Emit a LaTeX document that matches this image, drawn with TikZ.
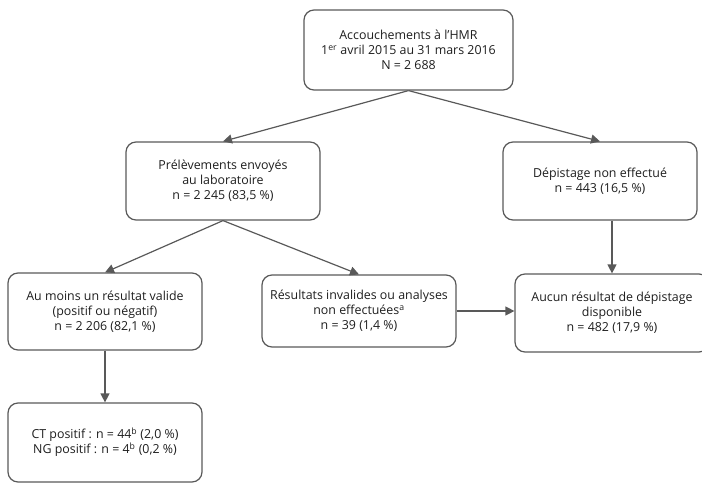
\documentclass[tikz,border=0pt]{standalone}
\usepackage{fontspec}
\setmainfont{Open Sans}
\usepackage{tikz}
\usetikzlibrary{arrows.meta}
\definecolor{BoxGray}{HTML}{595959}
\definecolor{TextDark}{HTML}{1E1E1E}

\begin{document}
\begin{tikzpicture}[
  x=1pt,y=1pt,
  every node/.style={font=\fontsize{12.4}{15}\selectfont,text=TextDark},
  flowbox/.style={draw=BoxGray,line width=1.2pt,rounded corners=10pt,
    minimum width=194pt,minimum height=78pt,align=center,inner sep=2pt},
  flowarrow/.style={-{Triangle[length=9pt,width=9pt]},line width=1.2pt,draw=BoxGray}
]
  \useasboundingbox (0,0) rectangle (702,483);

  \node[flowbox,minimum width=209pt,minimum height=80pt] (acc) at (408.5,433)
    {Accouchements à l’HMR\\1\textsuperscript{er} avril 2015 au 31 mars 2016\\N = 2 688};
  \node[flowbox] (prel) at (223,302)
    {Prélèvements envoyés\\au laboratoire\\n = 2 245 (83,5 \%)};
  \node[flowbox] (nondep) at (600,302)
    {Dépistage non effectué\\n = 443 (16,5 \%)};
  \node[flowbox,minimum height=77pt] (valide) at (105,171.5)
    {Au moins un résultat valide\\(positif ou négatif)\\n = 2 206 (82,1 \%)};
  \node[flowbox,minimum height=72pt] (invalide) at (359,172)
    {Résultats invalides ou analyses\\non effectuées\textsuperscript{a}\\n = 39 (1,4 \%)};
  \node[flowbox] (aucun) at (612,170)
    {Aucun résultat de dépistage\\disponible\\n = 482 (17,9 \%)};
  \node[flowbox,minimum height=79pt] (ctng) at (105,40.5)
    {CT positif : n = 44\textsuperscript{b} (2,0 \%)\\NG positif : n = 4\textsuperscript{b} (0,2 \%)};

  % connectors
  \draw[flowarrow] (acc.south) -- (prel.north);
  \draw[flowarrow] (acc.south) -- (nondep.north);
  \draw[flowarrow] (prel.south) -- (valide.north);
  \draw[flowarrow] (prel.south) -- (invalide.north);
  \draw[flowarrow] (valide.south) -- (ctng.north);
  \draw[flowarrow] (invalide.east) -- (aucun.west |- invalide.east);
  \draw[flowarrow] (aucun.north |- nondep.south) -- (aucun.north);
\end{tikzpicture}
\end{document}
